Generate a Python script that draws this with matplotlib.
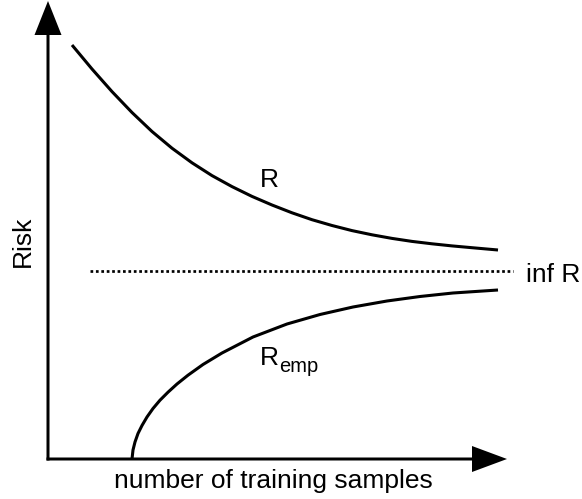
import matplotlib
matplotlib.use("Agg")
import matplotlib.pyplot as plt

# curve points (x = number of samples, y = risk)
r_x = [24, 44, 64, 84, 104, 124, 144, 164, 184, 204, 224, 244, 264,
       284, 304, 324, 344, 364, 384, 404, 424, 450]
r_y = [414, 390, 367.4, 346.5, 327.5, 310.8, 296.2, 283.4, 272.4, 262.6, 254, 246.2, 239.3,
       233.5, 228.4, 224.2, 220.6, 217.6, 215.2, 213.1, 211.3, 209]

remp_x = [84, 85, 87, 90, 94, 99, 105, 112, 120, 129, 140, 155, 174,
          205, 239, 272, 305, 339, 372, 405, 450]
remp_y = [0, 9, 17, 25.5, 33.5, 42, 50.5, 58.8, 66.8, 75, 83.8, 94.5, 106,
          122, 135, 144.5, 152, 158, 162.5, 166, 169]

inf_x = [42, 465]
inf_y = [188, 188]

x_axis_end = 459
y_axis_end = 458

plt.rcParams['font.family'] = ['Liberation Sans', 'DejaVu Sans']

fig = plt.figure(figsize=(5.82, 4.99), dpi=100)
ax = fig.add_axes([0, 0, 1, 1])
ax.set_xlim(-48, 534)
ax.set_ylim(-40, 459)
ax.axis('off')

# axes with arrow heads
ax.arrow(-1.5, 0, x_axis_end + 1.5, 0, width=3, head_width=26, head_length=35,
         length_includes_head=True, color='black', lw=0)
ax.arrow(0, -1.5, 0, y_axis_end + 1.5, width=3, head_width=27, head_length=34,
         length_includes_head=True, color='black', lw=0)

ax.plot(r_x, r_y, color='black', lw=2.2, solid_joinstyle='round', solid_capstyle='butt')
ax.plot(remp_x, remp_y, color='black', lw=2.2, solid_joinstyle='round', solid_capstyle='butt')
ax.plot(inf_x, inf_y, color='black', lw=1.95, linestyle=(0, (1, 1)))

fs = 19
ax.text(-25, 218, 'Risk', rotation=90, ha='center', va='center', fontsize=fs)
ax.text(225, -29, 'number of training samples', ha='center', va='baseline', fontsize=fs)
ax.text(212, 272, 'R', ha='left', va='baseline', fontsize=fs)
ax.text(212, 94, 'R', ha='left', va='baseline', fontsize=fs)
ax.text(231, 87, 'emp', ha='left', va='baseline', fontsize=14.5)
ax.text(478, 177, 'inf R', ha='left', va='baseline', fontsize=fs)

plt.savefig('out.png', dpi=100)
